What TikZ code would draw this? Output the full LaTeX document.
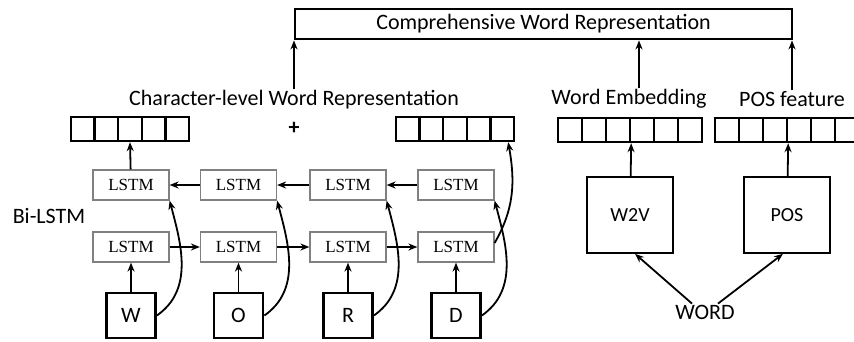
\documentclass[tikz,border=0pt]{standalone}
\usepackage{fontspec}
\setmainfont{Carlito}
\newfontfamily\lstmfont{Liberation Serif}
\usetikzlibrary{arrows.meta,positioning}
\tikzset{
    arr/.style={-{Stealth[length=9pt,width=7pt]},line width=1.8pt},
    lbl/.style={font=\fontsize{22}{26}\selectfont,inner sep=1pt},
    cell/.style={draw,line width=2.4pt,minimum width=23.6pt,minimum height=24pt,inner sep=0pt},
    lstm/.style={draw=gray,line width=1.2pt,minimum width=76pt,minimum height=30pt,
        font=\lstmfont\fontsize{17}{20}\selectfont},
    charbox/.style={draw,line width=2.8pt,minimum width=49pt,minimum height=45pt,
        font=\fontsize{22}{26}\selectfont},
    embbox/.style={draw,line width=1.6pt,minimum width=86pt,minimum height=76pt,
        font=\fontsize{20}{24}\selectfont},
}
\begin{document}
\begin{tikzpicture}[x=1pt,y=-1pt]
    \useasboundingbox (0,0) rectangle (854,341);
    \node[draw,line width=2.8pt,minimum width=497pt,minimum height=30pt,lbl] (comp) at (543.5,24) {Comprehensive Word Representation};
    \node[lbl] (charlab) at (294,100) {Character-level Word Representation};
    \node[lbl] (welab) at (629,99) {Word Embedding};
    \node[lbl] (poslab) at (792,99) {POS feature};
    \node[lbl] (plus) at (294,128) {\textbf{+}};
    \node[lbl] (bilstm) at (49,216) {Bi-LSTM};
    % vectors
    \foreach \i in {1,...,5}
        {\node[cell] (lv\i) at (71+11.8+23.6*\i-23.6,129) {};
         \node[cell] (rv\i) at (396+11.8+23.6*\i-23.6,129) {};
        }
    \foreach \i in {1,...,6}
        {\node[cell,minimum width=24pt] (we\i) at (558+12+24*\i-24,130) {};
         \node[cell,minimum width=24pt] (ps\i) at (715+12+24*\i-24,130) {};
        }
    % Bi-LSTM cells and characters
    \foreach \i/\x/\c in {1/131/W,2/238.5/O,3/348/R,4/456/D}
        {\node[lstm] (tl\i) at (\x,185) {LSTM};
         \node[lstm] (bl\i) at (\x,247) {LSTM};
         \node[charbox] (ch\i) at (\x,315.5) {\c};
         \draw[arr] (ch\i) -- (bl\i);
         \draw[arr] (ch\i.east) to[out=35,in=-75] (tl\i.south east);
        }
    \foreach \i/\j in {1/2,2/3,3/4}
        {\draw[arr] (tl\j) -- (tl\i);
         \draw[arr] (bl\i) -- (bl\j);
        }
    \draw[arr] (tl1) -- (lv3.south);
    \draw[arr] ([yshift=4pt]bl4.east) to[out=60,in=-80] ([xshift=6pt]rv5.south);
    % word level features
    \node[embbox] (w2v) at (630,215) {W2V};
    \node[embbox] (pos) at (787,215) {POS};
    \node[lbl] (word) at (705,312) {WORD};
    \draw[arr] (w2v) -- (we3.south east);
    \draw[arr] (pos) -- (ps3.south east);
    \draw[arr] ([xshift=-13pt]word.north) -- ([xshift=5pt]w2v.south);
    \draw[arr] ([xshift=13pt]word.north) -- ([xshift=-4pt]pos.south);
    % into the comprehensive representation
    \draw[arr] (charlab.north) -- (charlab.north |- comp.south);
    \draw[arr] ([xshift=10pt]welab.north) -- ([xshift=10pt]welab.north |- comp.south);
    \draw[arr] (poslab.north) -- (poslab.north |- comp.south);
\end{tikzpicture}
\end{document}
